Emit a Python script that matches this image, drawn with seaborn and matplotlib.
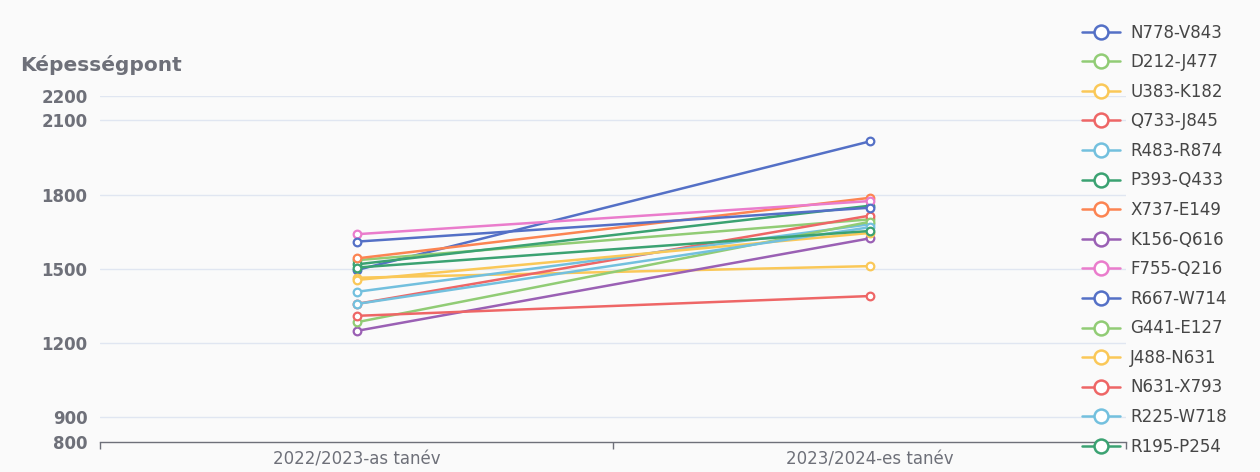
import matplotlib
matplotlib.use("Agg")
import matplotlib.pyplot as plt
from matplotlib.lines import Line2D
import seaborn as sns
import pandas as pd

# ---- data ----
years = ["2022/2023-as tanév", "2023/2024-es tanév"]
series_names = ["N778-V843", "D212-J477", "U383-K182", "Q733-J845", "R483-R874",
                "P393-Q433", "X737-E149", "K156-Q616", "F755-Q216", "R667-W714",
                "G441-E127", "J488-N631", "N631-X793", "R225-W718", "R195-P254"]
values_2022 = [1495, 1535, 1464, 1358, 1407, 1518, 1542, 1249, 1640, 1610,
               1284, 1455, 1310, 1358, 1505]
values_2023 = [2015, 1700, 1511, 1715, 1680, 1755, 1787, 1623, 1774, 1747,
               1690, 1645, 1390, 1668, 1653]
y_ticks = [800, 900, 1200, 1500, 1800, 2100, 2200]
y_title = "Képességpont"

palette_base = ['#5470c6', '#91cc75', '#fac858', '#ee6666', '#73c0de',
                '#3ba272', '#fc8452', '#9a60b4', '#ea7ccc']
colors = [palette_base[i % len(palette_base)] for i in range(len(series_names))]

rows = []
for name, a, b in zip(series_names, values_2022, values_2023):
    rows.append({"series": name, "year": years[0], "value": a})
    rows.append({"series": name, "year": years[1], "value": b})
df = pd.DataFrame(rows)

sns.set_theme(style="white")
plt.rcParams['font.family'] = ['DejaVu Sans']

bg = '#fafafa'
fig = plt.figure(figsize=(12.6, 4.72), dpi=100, facecolor=bg)
ax = fig.add_axes([100/1260, 1-442/472, (1126-100)/1260, (442-95.7)/472])
ax.set_facecolor(bg)

sns.lineplot(data=df, x="year", y="value", hue="series", hue_order=series_names,
             palette=colors, marker='o', markersize=5.5, markerfacecolor='white',
             markeredgewidth=1.6, linewidth=1.8, legend=False, ax=ax, sort=False)
for ln in ax.lines:
    ln.set_markeredgecolor(ln.get_color())
    ln.set_markerfacecolor('white')

ax.set_xlim(-0.5, 1.5)
ax.set_ylim(800, 2200)
ax.set_yticks(y_ticks)
ax.set_yticklabels([str(t) for t in y_ticks], fontsize=12, fontweight='bold', color='#6e7079')
ax.tick_params(axis='y', length=0, pad=9)
for t in y_ticks[1:]:
    ax.axhline(t, color='#e0e6f1', linewidth=1, zorder=0)

ax.set_xticks([0, 1])
ax.set_xticklabels(years, fontsize=12, color='#6e7079')
ax.set_xticks([-0.5, 0.5, 1.5], minor=True)
ax.tick_params(axis='x', which='major', length=0, pad=6)
ax.tick_params(axis='x', which='minor', bottom=True, length=5, width=1,
               color='#6e7079', direction='out')
ax.set_xlabel("")
ax.set_ylabel("")
for s in ['left', 'right', 'top']:
    ax.spines[s].set_visible(False)
ax.spines['bottom'].set_color('#6e7079')
ax.spines['bottom'].set_linewidth(1)

fig.text(20/1260, 1-65/472, y_title, fontsize=14.5, fontweight='bold',
         color='#6e7079', va='center', ha='left')

handles = [Line2D([0], [0], color=c, linewidth=1.8, marker='o', markersize=10,
                  markerfacecolor='white', markeredgewidth=1.8) for c in colors]
leg = fig.legend(handles, series_names, loc='upper left',
                 bbox_to_anchor=(1082/1260, 1-23.5/472), frameon=False,
                 fontsize=12, labelspacing=0.695, handlelength=2.3,
                 handletextpad=0.6, borderaxespad=0, borderpad=0)
for t in leg.get_texts():
    t.set_color('#464646')

fig.savefig("out.png", dpi=100, facecolor=bg)
